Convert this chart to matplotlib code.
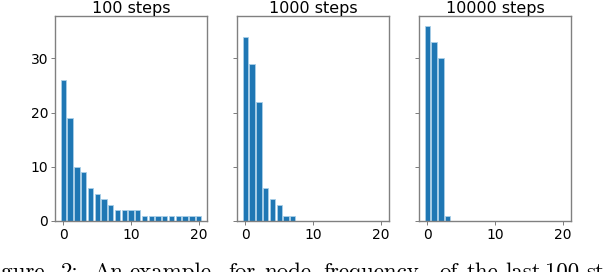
import numpy as np
import matplotlib
matplotlib.use('Agg')
import matplotlib.pyplot as plt

#Node frequency counts (x = 0..20)
nodes = np.arange(21)
freq_100 = [26, 19, 10, 9, 6, 5, 4, 3, 2, 2, 2, 2, 1, 1, 1, 1, 1, 1, 1, 1, 1]
freq_1000 = [34, 29, 22, 6, 4, 3, 1, 1, 0, 0, 0, 0, 0, 0, 0, 0, 0, 0, 0, 0, 0]
freq_10000 = [36, 33, 30, 1, 0, 0, 0, 0, 0, 0, 0, 0, 0, 0, 0, 0, 0, 0, 0, 0, 0]
titles = ['100 steps', '1000 steps', '10000 steps']
caption_words = ['Figure', '2:', 'An', 'example', 'for', 'node', 'frequency',
                 'of', 'the', 'last', '100', 'steps']

W, H = 604, 272
fig = plt.figure(figsize=(W/100, H/100), dpi=100)

lefts = [55, 237, 419]
axs = []
for i, (f, t) in enumerate(zip([freq_100, freq_1000, freq_10000], titles)):
 if i == 0:
  ax = fig.add_axes([lefts[i]/W, 1-221/H, 152/W, 205/H])
 else:
  ax = fig.add_axes([lefts[i]/W, 1-221/H, 152/W, 205/H], sharey=axs[0], sharex=axs[0])
  plt.setp(ax.get_yticklabels(), visible=False)
 ax.bar(nodes, f, width=0.8, color='#1f77b4', edgecolor='#a9cfe8', linewidth=0.6)
 ax.set_title(t, fontsize=11.5, pad=0.5)
 ax.set_xticks([0, 10, 20])
 ax.set_yticks([0, 10, 20, 30])
 ax.tick_params(labelsize=10, length=3, width=0.6, color='0.4', pad=2)
 for s in ax.spines.values():
  s.set_color('0.5')
  s.set_linewidth(1)
 axs.append(ax)

axs[0].set_xlim(-1.25, 21.25)
axs[0].set_ylim(0, 37.8)

#Caption (justified line of the source page, cut off by the figure edge)
word_x = [45, 70, 108.5, 170.5, 241.5, 287.5, 371, 448.5, 482, 523.5, 562, 586]
word_ha = ['right'] + ['center']*10 + ['left']
for w, x, ha in zip(caption_words, word_x, word_ha):
 fig.text(x/W, -5.5/H, w, family='cmr10', fontsize=16.5, ha=ha, va='baseline')

plt.savefig('out.png', dpi=100)
